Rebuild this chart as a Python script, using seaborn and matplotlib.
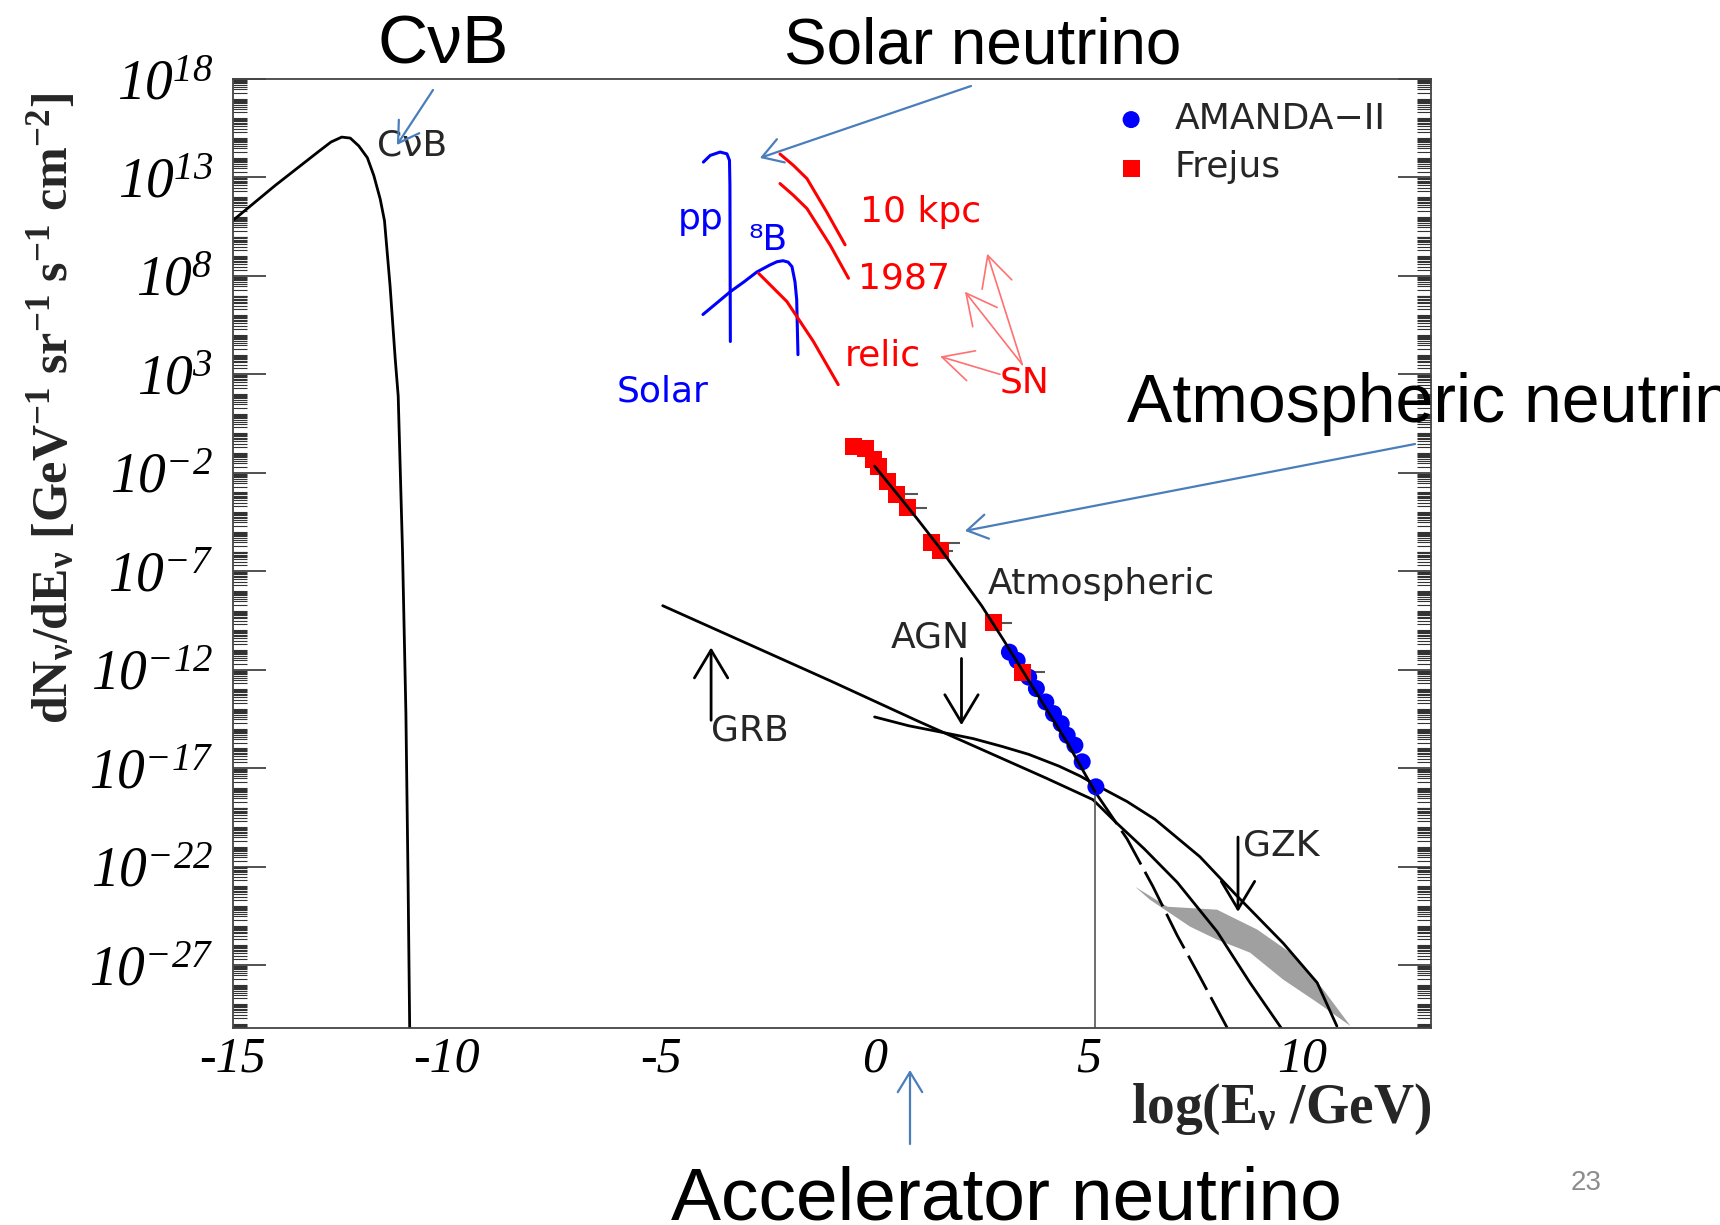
import numpy as np
import matplotlib
matplotlib.use("Agg")
import matplotlib.pyplot as plt
import matplotlib.ticker as mticker
import seaborn as sns

# all curves: x = log10(E/GeV), ly = log10(flux)
cnb_x = [-15.0, -14.5, -14.0, -13.5, -13.0, -12.7, -12.45, -12.25, -12.05, -11.85,
         -11.7, -11.55, -11.45, -11.32, -11.2, -11.13, -11.03, -10.95, -10.9, -10.86]
cnb_ly = [10.8, 11.7, 12.6, 13.45, 14.3, 14.8, 15.05, 15.0, 14.6, 14.0,
          13.1, 11.9, 10.8, 7.5, 3.8, 1.9, -5.9, -14.2, -22.6, -30.5]

pp_x = [-4.0, -3.84, -3.61, -3.45, -3.39, -3.38, -3.37]
pp_ly = [13.78, 14.12, 14.29, 14.2, 13.87, 12.6, 4.67]
b8_x = [-4.01, -3.7, -3.37, -3.05, -2.75, -2.45, -2.28, -2.14, -2.02, -1.93, -1.86, -1.82, -1.81, -1.79]
b8_ly = [6.04, 6.6, 7.2, 7.7, 8.2, 8.55, 8.72, 8.77, 8.7, 8.47, 7.7, 6.8, 5.83, 4.0]

kpc_x = [-2.21, -1.9, -1.58, -1.12, -0.69]
kpc_ly = [14.19, 13.62, 12.94, 11.25, 9.58]
sn87_x = [-2.21, -1.9, -1.58, -1.04, -0.61]
sn87_ly = [12.69, 12.1, 11.42, 9.57, 7.88]
relic_x = [-2.71, -2.05, -1.43, -0.85]
relic_ly = [8.13, 6.70, 4.67, 2.48]

atm_x = [0.0, 0.5, 1.0, 1.5, 2.0, 2.5, 3.0, 3.5, 4.0, 4.5, 5.15]
atm_ly = [-1.66, -3.0, -4.35, -5.75, -7.25, -8.75, -10.45, -12.2, -13.95, -15.7, -18.2]
atm_dash_x = [5.15, 5.9, 6.5, 7.07, 7.6, 8.24]
atm_dash_ly = [-18.2, -20.6, -23.0, -25.5, -27.6, -30.2]

grb_x = [-4.95, -3.0, -1.0, 1.0, 2.5, 4.0, 5.1, 5.66, 6.3, 7.07, 8.0, 8.77, 9.5]
grb_ly = [-8.75, -10.65, -12.6, -14.6, -16.05, -17.5, -18.6, -19.8, -21.1, -22.8, -25.3, -27.9, -30.2]

agn_x = [0.0, 0.8, 1.62, 2.3, 2.98, 3.6, 4.31, 4.8, 5.21, 5.9, 6.55, 7.6, 8.47, 9.55, 10.34, 10.8]
agn_ly = [-14.4, -14.85, -15.2, -15.5, -15.9, -16.3, -16.9, -17.4, -17.9, -18.7, -19.6,
          -21.5, -23.5, -25.9, -27.9, -30.1]

gzk_up_x = [6.09, 6.84, 8.00, 8.94, 9.71, 10.48, 10.95, 11.12]
gzk_up_ly = [-23.03, -24.04, -24.19, -25.2, -26.37, -28.24, -29.61, -30.1]
gzk_lo_x = [10.34, 9.54, 8.77, 8.0, 7.37, 6.43]
gzk_lo_ly = [-28.9, -27.73, -26.37, -25.71, -25.05, -23.68]

frejus_x = [-0.50, -0.22, -0.03, 0.1, 0.29, 0.52, 0.76, 1.34, 1.53, 2.77, 3.45]
frejus_ly = [-0.65, -0.75, -1.3, -1.7, -2.42, -3.08, -3.78, -5.56, -5.96, -9.61, -12.14]
frejus_xerr = [0, 0, 0, 0, 0.1, 0.5, 0.47, 0.66, 0.31, 0.44, 0.52]

amanda_x = [3.15, 3.33, 3.60, 3.78, 4.00, 4.18, 4.36, 4.50, 4.68, 4.85, 5.17]
amanda_ly = [-11.11, -11.53, -12.38, -12.96, -13.64, -14.23, -14.74, -15.33, -15.84, -16.68, -17.95]

xtick_vals = [-15, -10, -5, 0, 5, 10]
xtick_labels = ['-15', '-10', '-5', '0', '5', '10']
ytick_exps = [18, 13, 8, 3, -2, -7, -12, -17, -22, -27]


def p(v):
    return 10.0 ** np.asarray(v, dtype=float)


sns.set_style("white")
plt.rcParams["font.family"] = ["DejaVu Sans"]
plt.rcParams["mathtext.fontset"] = "custom"
plt.rcParams["mathtext.rm"] = "Liberation Serif"
plt.rcParams["mathtext.it"] = "Liberation Serif:italic"
plt.rcParams["mathtext.bf"] = "Liberation Serif:bold"

fig = plt.figure(figsize=(17.2, 12.25), dpi=100)
ax = fig.add_axes([0.1352, 0.1608, 0.6968, 0.7747])
ax.set_yscale("log")

BLUE = "#0000ff"
RED = "#ff0000"
ANN = "#4a7ebb"

# black model curves
sns.lineplot(x=cnb_x, y=p(cnb_ly), ax=ax, color="k", lw=2, sort=False, estimator=None)
sns.lineplot(x=grb_x, y=p(grb_ly), ax=ax, color="k", lw=2, sort=False, estimator=None)
sns.lineplot(x=agn_x, y=p(agn_ly), ax=ax, color="k", lw=2, sort=False, estimator=None)
sns.lineplot(x=atm_dash_x, y=p(atm_dash_ly), ax=ax, color="k", lw=2, sort=False,
             estimator=None, linestyle=(0, (14, 3)))
ax.fill(gzk_up_x + gzk_lo_x, list(p(gzk_up_ly)) + list(p(gzk_lo_ly)),
        color="#a0a0a0", lw=0, zorder=1)
ax.vlines(5.15, p(-31), p(-18.3), color="#555555", lw=1.2)

# solar / supernova
sns.lineplot(x=pp_x, y=p(pp_ly), ax=ax, color=BLUE, lw=2.2, sort=False, estimator=None)
sns.lineplot(x=b8_x, y=p(b8_ly), ax=ax, color=BLUE, lw=2.2, sort=False, estimator=None)
for sx, sy in [(kpc_x, kpc_ly), (sn87_x, sn87_ly), (relic_x, relic_ly)]:
    sns.lineplot(x=sx, y=p(sy), ax=ax, color=RED, lw=2.2, sort=False, estimator=None)

# data points
ax.errorbar(frejus_x, p(frejus_ly), xerr=[[0] * len(frejus_xerr), frejus_xerr],
            fmt="none", ecolor="#555555", elinewidth=1.5, zorder=3)
sns.scatterplot(x=amanda_x, y=p(amanda_ly), ax=ax, color=BLUE, marker="o", s=150,
                edgecolor="none", label="AMANDA\u2212II", zorder=4)
sns.scatterplot(x=frejus_x, y=p(frejus_ly), ax=ax, color=RED, marker="s", s=150,
                edgecolor="none", label="Frejus", zorder=4)
sns.lineplot(x=atm_x, y=p(atm_ly), ax=ax, color="k", lw=2, sort=False, estimator=None, zorder=5)

ax.set_xlim(-15, 13)
ax.set_ylim(p(-30.2), p(18))

# ticks
ax.set_xticks(xtick_vals)
ax.set_xticklabels(xtick_labels, fontstyle="italic", family="Liberation Serif", fontsize=36)
ax.xaxis.set_minor_locator(mticker.MultipleLocator(1))
ax.set_yticks(p(ytick_exps))
ax.set_yticklabels([r"$\mathdefault{10^{%d}}$" % e for e in ytick_exps], fontsize=40,
                   fontstyle="italic", family="Liberation Serif")
minor = [m * 10.0 ** e for e in range(-31, 19) for m in range(1, 10)]
ax.yaxis.set_minor_locator(mticker.FixedLocator(minor))
ax.yaxis.set_minor_formatter(mticker.NullFormatter())
ax.tick_params(axis="x", which="both", direction="in", length=23, width=1.2,
               top=False, pad=6, colors="#333333", labelcolor="k")
ax.tick_params(axis="y", which="major", direction="in", length=24, width=1.2,
               left=True, right=True, pad=14, colors="#333333", labelcolor="k")
ax.tick_params(axis="y", which="minor", direction="in", length=10, width=0.8,
               left=True, right=True, colors="#333333")
for s in ax.spines.values():
    s.set_color("#444444")
    s.set_linewidth(1.3)

ax.set_ylabel(r"$\mathbf{dN_{\nu}/dE_{\nu}\ [GeV^{-1}\ sr^{-1}\ s^{-1}\ cm^{-2}]}$", fontsize=36)
ax.yaxis.set_label_coords(-0.13, 0.653)
ax.set_xlabel(r"$\mathbf{log(E_{\nu}\ /GeV)}$", fontsize=40, ha="right", va="top")
ax.xaxis.set_label_coords(1.0, -0.056)

# legend
h, l = ax.get_legend_handles_labels()
ax.legend(h, l, loc="upper left", bbox_to_anchor=(1095 / 1720, 1 - 84 / 1225),
          bbox_transform=fig.transFigure, frameon=False, fontsize=26, handlelength=1.0,
          handletextpad=0.7, labelspacing=0.4, borderpad=0, markerscale=1.0)

# labels inside the plot
lab = dict(fontsize=26, va="center")
ax.text(-11.62, p(14.6), "C\u03bdB", **lab)
ax.text(2.65, p(-7.63), "Atmospheric", **lab)
ax.text(1.3, p(-10.37), "AGN", ha="center", fontsize=26, va="center")
ax.text(-3.82, p(-15.1), "GRB", **lab)
ax.text(8.6, p(-20.95), "GZK", **lab)
ax.text(-4.61, p(10.9), "pp", color=BLUE, **lab)
ax.text(-2.96, p(9.83), "\u2078B", color=BLUE, **lab)
ax.text(-6.02, p(2.14), "Solar", color=BLUE, **lab)
ax.text(-0.34, p(11.25), "10 kpc", color=RED, **lab)
ax.text(-0.38, p(7.86), "1987", color=RED, **lab)
ax.text(-0.69, p(3.96), "relic", color=RED, **lab)
ax.text(2.93, p(2.6), "SN", color=RED, **lab)

blk = dict(arrowstyle="->,head_length=0.5,head_width=0.3", lw=2, color="k",
           mutation_scale=40, shrinkA=0, shrinkB=0)
ax.annotate("", xy=(-3.82, p(-10.87)), xytext=(-3.82, p(-14.57)), arrowprops=blk)
ax.annotate("", xy=(2.03, p(-14.82)), xytext=(2.03, p(-11.43)), arrowprops=blk)
ax.annotate("", xy=(8.49, p(-24.3)), xytext=(8.49, p(-20.5)), arrowprops=blk)

pink = dict(arrowstyle="->,head_length=0.55,head_width=0.28", lw=1.2, color="#ff7070",
            mutation_scale=40, shrinkA=0, shrinkB=0)
ax.annotate("", xy=(1.53, p(3.91)), xytext=(2.93, p(3.0)), arrowprops=pink)
ax.annotate("", xy=(2.11, p(7.2)), xytext=(3.45, p(3.5)), arrowprops=pink)
ax.annotate("", xy=(2.63, p(9.13)), xytext=(3.45, p(3.5)), arrowprops=pink)

# slide annotations
big = dict(family="Liberation Sans", color="k", va="baseline")
fig.text(443 / 1720, 1 - 64 / 1225, "C\u03bdB", fontsize=50, ha="center", **big)
fig.text(784 / 1720, 1 - 63 / 1225, "Solar neutrino", fontsize=46, ha="left", **big)
fig.text(1127 / 1720, 1 - 422 / 1225, "Atmospheric neutrino", fontsize=49, ha="left", **big)
fig.text(671 / 1720, 1 - 1220 / 1225, "Accelerator neutrino", fontsize=54, ha="left", **big)
fig.text(1586 / 1720, 1 - 1190 / 1225, "23", fontsize=20, ha="center", family="Liberation Sans",
         color="#8c8c8c", va="baseline")

blu = dict(arrowstyle="->,head_length=0.36,head_width=0.22", lw=1.6, color=ANN,
           mutation_scale=40, shrinkA=0, shrinkB=0)
ax.annotate("", xy=(-11.16, p(14.65)), xytext=(433 / 1720, 1 - 90 / 1225),
            textcoords="figure fraction", arrowprops=blu, annotation_clip=False)
ax.annotate("", xy=(-2.68, p(13.99)), xytext=(971 / 1720, 1 - 86 / 1225),
            textcoords="figure fraction", arrowprops=blu, annotation_clip=False)
ax.annotate("", xy=(2.11, p(-4.95)), xytext=(1415 / 1720, 1 - 444 / 1225),
            textcoords="figure fraction", arrowprops=blu, annotation_clip=False)
ax.annotate("", xy=(910 / 1720, 1 - 1070 / 1225), xycoords="figure fraction",
            xytext=(910 / 1720, 1 - 1144 / 1225), textcoords="figure fraction",
            arrowprops=blu, annotation_clip=False)

fig.savefig("out.png", dpi=100)
